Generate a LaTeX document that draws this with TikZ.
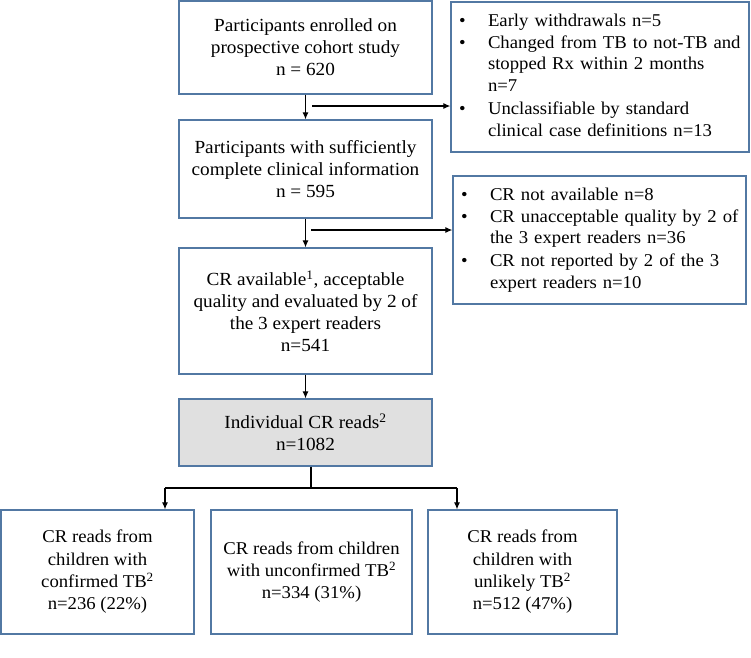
\documentclass[tikz,border=0pt]{standalone}
\usepackage{fontspec}
\setmainfont{Liberation Serif}[FakeStretch=1.04]
\usetikzlibrary{arrows.meta}
\definecolor{boxblue}{RGB}{82,120,163}
\definecolor{boxgrey}{RGB}{224,224,224}
\newcommand{\bul}[1]{\makebox[29pt][l]{\textbullet}\begin{tabular}[t]{@{}l@{}}#1\end{tabular}}
\tikzset{
  mainbox/.style={draw=boxblue, line width=1.3pt, minimum width=253pt, inner sep=3pt, align=center,
    font=\fontsize{18.5}{22}\selectfont},
  sidebox/.style={draw=boxblue, line width=1.3pt, inner xsep=8pt, inner ysep=0pt, align=left,
    font=\fontsize{18}{21.7}\selectfont},
  lowbox/.style={draw=boxblue, line width=1.3pt, minimum height=124pt, inner sep=3pt, align=center,
    font=\fontsize{18}{22.3}\selectfont},
  arr/.style={line width=1.1pt, -{Latex[length=7pt,width=6pt]}},
  ln/.style={line width=1.1pt}
}
\begin{document}
\begin{tikzpicture}[x=1pt,y=-1pt]
\useasboundingbox (0,0) rectangle (751,657);
\node[mainbox, minimum height=93pt] (b1) at (305.5,47.5) {Participants enrolled on\\prospective cohort study\\n = 620};
\node[mainbox, minimum height=98pt] (b2) at (305.5,169) {Participants with sufficiently\\complete clinical information\\n = 595};
\node[mainbox, minimum height=126pt] (b3) at (305.5,311) {CR available\textsuperscript{1}, acceptable\\quality and evaluated by 2 of\\the 3 expert readers\\n=541};
\node[mainbox, minimum height=67pt, fill=boxgrey] (b4) at (305.5,432.5) {Individual CR reads\textsuperscript{2}\\n=1082};

\node[sidebox, minimum width=298pt, minimum height=150pt, text width=282pt] (r1) at (600,77) {%
\bul{Early withdrawals n=5}\\
\bul{Changed from TB to not-TB and\\stopped Rx within 2 months\\n=7}\\
\bul{Unclassifiable by standard\\clinical case definitions n=13}};
\node[sidebox, minimum width=293pt, minimum height=128pt, text width=277pt] (r2) at (599.5,240) {%
\bul{CR not available n=8}\\
\bul{CR unacceptable quality by 2 of\\the 3 expert readers n=36}\\
\bul{CR not reported by 2 of the 3\\expert readers n=10}};

\node[lowbox, minimum width=193pt] (c1) at (97.5,572) {CR reads from\\children with\\confirmed TB\textsuperscript{2}\\n=236 (22\%)};
\node[lowbox, minimum width=201pt] (c2) at (311.5,572) {CR reads from children\\with unconfirmed TB\textsuperscript{2}\\n=334 (31\%)};
\node[lowbox, minimum width=189pt] (c3) at (522.5,572) {CR reads from\\children with\\unlikely TB\textsuperscript{2}\\n=512 (47\%)};

\draw[arr] (b1.south) -- (b2.north);
\coordinate (h1) at (312,106);
\draw[arr] (h1) -- (h1 -| r1.west);
\draw[arr] (b2.south) -- (b3.north);
\coordinate (h2) at (311,230);
\draw[arr] (h2) -- (h2 -| r2.west);
\draw[arr] (b3.south) -- (b4.north);

\coordinate (j) at (311,488);
\coordinate (jl) at (165,488);
\coordinate (jr) at (457,488);
\draw[ln] (b4.south -| j) -- (j);
\draw[ln] (jl) -- (jr);
\draw[arr] (jl) -- (jl |- c1.north);
\draw[arr] (jr) -- (jr |- c3.north);
\end{tikzpicture}
\end{document}
